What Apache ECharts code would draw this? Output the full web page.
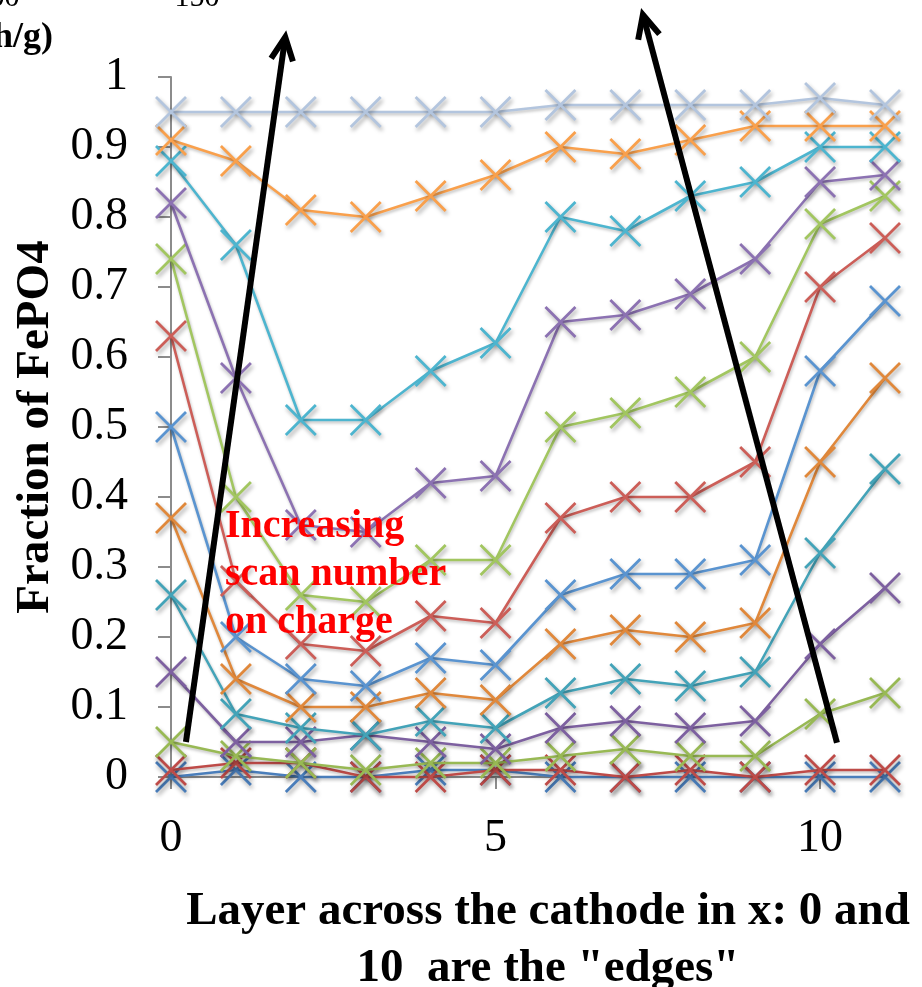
<!DOCTYPE html>
<html>
<head>
<meta charset="utf-8">
<script src="https://cdn.jsdelivr.net/npm/echarts@6/dist/echarts.min.js"></script>
<style>
  html, body { margin: 0; padding: 0; background: #ffffff; }
  #chart { width: 922px; height: 987px; }
</style>
</head>
<body>
<div id="chart"></div>
<script>
// Layer index across the cathode (x)
const layers = [0, 1, 2, 3, 4, 5, 6, 7, 8, 9, 10, 11];

// Fraction of FePO4 per layer, one array per scan (charge proceeds scan01 -> scan13)
const scan01 = [0.00, 0.01, 0.00, 0.00, 0.01, 0.01, 0.00, 0.00, 0.00, 0.00, 0.00, 0.00];
const scan02 = [0.01, 0.02, 0.02, 0.00, 0.00, 0.01, 0.01, 0.00, 0.01, 0.00, 0.01, 0.01];
const scan03 = [0.05, 0.03, 0.02, 0.01, 0.02, 0.02, 0.03, 0.04, 0.03, 0.03, 0.09, 0.12];
const scan04 = [0.15, 0.05, 0.05, 0.06, 0.05, 0.04, 0.07, 0.08, 0.07, 0.08, 0.19, 0.27];
const scan05 = [0.26, 0.09, 0.07, 0.06, 0.08, 0.07, 0.12, 0.14, 0.13, 0.15, 0.32, 0.44];
const scan06 = [0.37, 0.14, 0.10, 0.10, 0.12, 0.11, 0.19, 0.21, 0.20, 0.22, 0.45, 0.57];
const scan07 = [0.50, 0.20, 0.14, 0.13, 0.17, 0.16, 0.26, 0.29, 0.29, 0.31, 0.58, 0.68];
const scan08 = [0.63, 0.28, 0.19, 0.18, 0.23, 0.22, 0.37, 0.40, 0.40, 0.45, 0.70, 0.77];
const scan09 = [0.74, 0.40, 0.26, 0.25, 0.31, 0.31, 0.50, 0.52, 0.55, 0.60, 0.79, 0.83];
const scan10 = [0.82, 0.57, 0.36, 0.35, 0.42, 0.43, 0.65, 0.66, 0.69, 0.74, 0.85, 0.86];
const scan11 = [0.88, 0.76, 0.51, 0.51, 0.58, 0.62, 0.80, 0.78, 0.83, 0.85, 0.90, 0.90];
const scan12 = [0.91, 0.88, 0.81, 0.80, 0.83, 0.86, 0.90, 0.89, 0.91, 0.93, 0.93, 0.93];
const scan13 = [0.95, 0.95, 0.95, 0.95, 0.95, 0.95, 0.96, 0.96, 0.96, 0.96, 0.97, 0.96];

const scans = [scan01, scan02, scan03, scan04, scan05, scan06, scan07,
               scan08, scan09, scan10, scan11, scan12, scan13];
const scanNames = scans.map((_, i) => 'Scan ' + (i + 1));

// Tick values shown on the layer axis
const layerTicks = [0, 5, 10];

// Annotation texts
const noteText = 'Increasing\nscan number\non charge';
const xTitle = 'Layer across the cathode in x: 0 and\n10  are the "edges"';
const yTitle = 'Fraction of FePO4';

const palette = ['#4A7EBB', '#BE4B48', '#98B954', '#7D60A0', '#43A3B8', '#E0883B',
                 '#5A94D0', '#CC5E58', '#A2C660', '#8C72B2', '#4DB5CF', '#F9A04C', '#B3C5DE'];

const SERIF = '"Liberation Serif", "Times New Roman", serif';
const CROSS = 'path://M0,0L10,10M10,0L0,10';

const chart = echarts.init(document.getElementById('chart'), null, { renderer: 'canvas' });

const series = scans.map((vals, i) => ({
  name: scanNames[i],
  type: 'line',
  data: layers.map((x, j) => [x, vals[j]]),
  symbol: CROSS,
  symbolSize: 30,
  symbolKeepAspect: true,
  showAllSymbol: true,
  clip: false,
  z: 2 + i,
  lineStyle: {
    color: palette[i], width: 2.6,
    shadowColor: 'rgba(0,0,0,0.25)', shadowBlur: 3, shadowOffsetX: 1, shadowOffsetY: 2
  },
  itemStyle: {
    color: palette[i], borderColor: palette[i], borderWidth: 2.8,
    shadowColor: 'rgba(0,0,0,0.35)', shadowBlur: 4, shadowOffsetX: 1.5, shadowOffsetY: 3
  },
  emphasis: { disabled: true },
  animation: false
}));

chart.setOption({
  animation: false,
  backgroundColor: '#ffffff',
  grid: { left: 171, right: 37, top: 77, bottom: 210, containLabel: false, outerBoundsMode: 'none' },
  xAxis: {
    type: 'value',
    min: 0, max: 11, interval: 5,
    name: xTitle,
    nameLocation: 'middle',
    nameGap: 106,
    nameTextStyle: {
      fontFamily: SERIF, fontSize: 47, fontWeight: 'bold', color: '#000',
      lineHeight: 57, padding: [0, 0, 0, 40]
    },
    axisLine: { show: true, onZero: false, lineStyle: { color: '#8C8C8C', width: 2 } },
    axisTick: { show: true, inside: false, length: 12, customValues: layerTicks,
                lineStyle: { color: '#8C8C8C', width: 2 } },
    axisLabel: { show: true, margin: 39, customValues: layerTicks,
                 fontFamily: SERIF, fontSize: 46, color: '#000' },
    splitLine: { show: false }
  },
  yAxis: {
    type: 'value',
    min: 0, max: 1, interval: 0.1,
    name: yTitle,
    nameLocation: 'middle',
    nameGap: 110,
    nameTextStyle: { fontFamily: SERIF, fontSize: 47, fontWeight: 'bold', color: '#000' },
    axisLine: { show: true, lineStyle: { color: '#8C8C8C', width: 2 } },
    axisTick: { show: true, inside: false, length: 13, lineStyle: { color: '#8C8C8C', width: 2 } },
    axisLabel: { margin: 43, fontFamily: SERIF, fontSize: 46, color: '#000' },
    splitLine: { show: false }
  },
  series: series
});

// Trend arrows, defined in data units (layer, fraction): tail -> head
const arrowLeft = { from: [0.23, 0.05], to: [1.76, 1.057] };
const arrowRight = { from: [10.26, 0.049], to: [7.27, 1.089] };

function arrowGraphics(a) {
  const p0 = chart.convertToPixel({ gridIndex: 0 }, a.from);
  const p1 = chart.convertToPixel({ gridIndex: 0 }, a.to);
  const dx = p1[0] - p0[0], dy = p1[1] - p0[1];
  const len = Math.hypot(dx, dy);
  const ux = dx / len, uy = dy / len;
  const px = -uy, py = ux;
  const headLen = 23, headHalf = 11;
  const w1 = [p1[0] - ux * headLen + px * headHalf, p1[1] - uy * headLen + py * headHalf];
  const w2 = [p1[0] - ux * headLen - px * headHalf, p1[1] - uy * headLen - py * headHalf];
  const stroke = { stroke: '#000', lineWidth: 6, lineCap: 'butt', lineJoin: 'miter', fill: null };
  return [
    { type: 'line', z: 100, shape: { x1: p0[0], y1: p0[1], x2: p1[0] - ux * 3, y2: p1[1] - uy * 3 }, style: stroke },
    { type: 'polyline', z: 100, shape: { points: [w1, p1, w2] }, style: stroke }
  ];
}

chart.setOption({
  graphic: [
    ...arrowGraphics(arrowLeft),
    ...arrowGraphics(arrowRight),
    {
      type: 'text', z: 101, left: 225, top: 503,
      style: {
        text: noteText, fill: '#FF0000', fontFamily: SERIF, fontSize: 40,
        fontWeight: 'bold', lineHeight: 48, align: 'left'
      }
    },
    // Fragments of the panel above this one
    {
      type: 'text', z: 101, x: -3, y: 13,
      style: { text: '100', fill: '#000', fontFamily: SERIF, fontSize: 30, align: 'center', verticalAlign: 'bottom' }
    },
    {
      type: 'text', z: 101, x: 197, y: 13,
      style: { text: '150', fill: '#000', fontFamily: SERIF, fontSize: 30, align: 'center', verticalAlign: 'bottom' }
    },
    {
      type: 'text', z: 101, x: 53, y: 38,
      style: { text: '(mAh/g)', fill: '#000', fontFamily: SERIF, fontSize: 36, fontWeight: 'bold', align: 'right', verticalAlign: 'middle' }
    }
  ]
});
</script>
</body>
</html>
